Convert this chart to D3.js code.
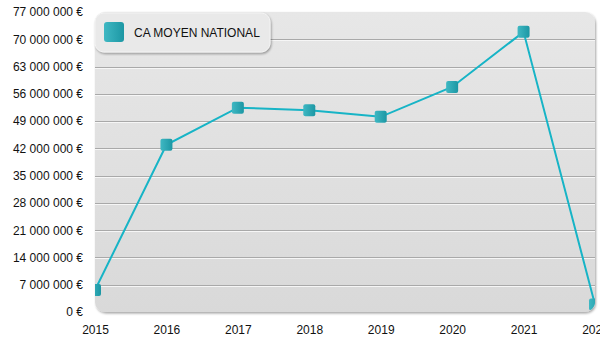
<!DOCTYPE html>
<html><head><meta charset="utf-8">
<script src="https://cdn.jsdelivr.net/npm/d3@7"></script>
<style>html,body{margin:0;padding:0;background:#fff;}svg{display:block;font-family:"Liberation Sans",Arial,sans-serif;}</style>
</head><body>
<svg id="c" width="600" height="350"></svg>
<script>
const years = ["2015","2016","2017","2018","2019","2020","2021","2022"];
const caMoyen = [5650000, 42900000, 52450000, 51800000, 50100000, 57750000, 71900000, 1900000];
const yTicks = [0,7000000,14000000,21000000,28000000,35000000,42000000,49000000,56000000,63000000,70000000,77000000];
const seriesName = "CA MOYEN NATIONAL";

const svg = d3.select("#c");
const L = 95, R = 595, T = 12, B = 312;
const x = d3.scalePoint().domain(years).range([L, R]);
const y = d3.scaleLinear().domain([0, 77000000]).range([B, T]);
const fmt = v => d3.format(",")(v).replace(/,/g, " ") + " €";

const defs = svg.append("defs");
const bg = defs.append("linearGradient").attr("id","bg").attr("x1",0).attr("y1",0).attr("x2",0).attr("y2",1);
bg.append("stop").attr("offset","0%").attr("stop-color","#e7e7e7");
bg.append("stop").attr("offset","100%").attr("stop-color","#d9d9d9");
const mk = defs.append("linearGradient").attr("id","mk").attr("x1",0).attr("y1",0).attr("x2",1).attr("y2",0);
mk.append("stop").attr("offset","0%").attr("stop-color","#3fb8c3");
mk.append("stop").attr("offset","100%").attr("stop-color","#1c97a4");
const sh = defs.append("filter").attr("id","sh").attr("x","-5%").attr("y","-5%").attr("width","110%").attr("height","115%");
sh.append("feDropShadow").attr("dx",1).attr("dy",1.5).attr("stdDeviation",1).attr("flood-color","#000").attr("flood-opacity",0.35);
defs.append("clipPath").attr("id","clip").append("rect")
  .attr("x",L).attr("y",T).attr("width",R-L).attr("height",B-T).attr("rx",10);

// plot background
svg.append("rect").attr("x",L).attr("y",T).attr("width",R-L).attr("height",B-T)
  .attr("rx",10).attr("fill","url(#bg)").attr("filter","url(#sh)");

// grid lines (embossed)
const grid = svg.append("g");
yTicks.filter(v => v > 0 && v < 77000000).forEach(v => {
  const yy = Math.round(y(v)) + 0.5;
  grid.append("line").attr("x1",L).attr("x2",R).attr("y1",yy).attr("y2",yy).attr("stroke","#a9a9a9");
  grid.append("line").attr("x1",L).attr("x2",R).attr("y1",yy+1).attr("y2",yy+1).attr("stroke","#f6f6f6");
});

// axes
const yAxis = d3.axisLeft(y).tickValues(yTicks).tickFormat(fmt).tickSize(0).tickPadding(12);
const ga = svg.append("g").attr("transform",`translate(${L},0)`).call(yAxis);
ga.select(".domain").remove();
ga.selectAll("text").attr("font-size",12).attr("fill","#111").attr("font-family","Liberation Sans, Arial, sans-serif");

const xAxis = d3.axisBottom(x).tickSize(0).tickPadding(13);
const gx = svg.append("g").attr("transform",`translate(0,${B})`).call(xAxis);
gx.select(".domain").remove();
gx.selectAll("text").attr("font-size",12).attr("fill","#111").attr("font-family","Liberation Sans, Arial, sans-serif");

// series
const data = years.map((yr,i) => ({yr, v: caMoyen[i]}));
const plot = svg.append("g").attr("clip-path","url(#clip)");
plot.append("path").datum(data)
  .attr("fill","none").attr("stroke","#17b4c6").attr("stroke-width",2)
  .attr("d", d3.line().x(d => x(d.yr)).y(d => y(d.v)));
plot.selectAll("rect.m").data(data).join("rect").attr("class","m")
  .attr("x", d => x(d.yr) - 6).attr("y", d => y(d.v) - 6)
  .attr("width",12).attr("height",12).attr("rx",2)
  .attr("fill","url(#mk)");

// legend
const lg = svg.append("g");
lg.append("rect").attr("x",L).attr("y",13).attr("width",175).attr("height",39).attr("rx",9)
  .attr("fill","#e9e9e9").attr("stroke","#f3f3f3").attr("filter","url(#sh)");
lg.append("rect").attr("x",104).attr("y",22).attr("width",20).attr("height",20).attr("rx",3).attr("fill","url(#mk)");
lg.append("text").attr("x",134).attr("y",37).attr("font-size",12).attr("fill","#111").text(seriesName);
</script>
</body></html>
